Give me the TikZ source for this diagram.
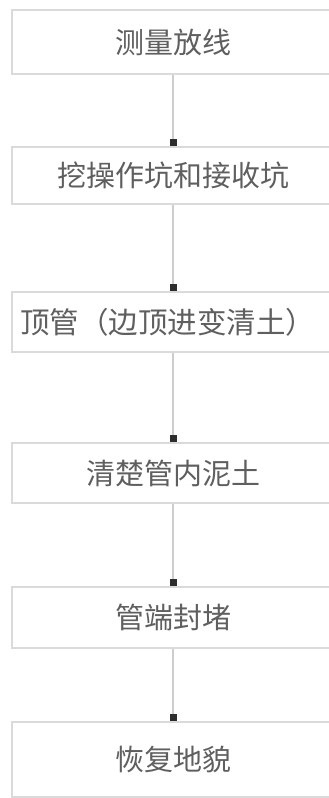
\documentclass[tikz,border=0pt]{standalone}
\usepackage{fontspec}
\newfontfamily\cjk{Noto Sans CJK SC}
\usetikzlibrary{arrows.meta}
\definecolor{boxline}{RGB}{218,218,218}
\definecolor{conline}{RGB}{205,205,205}
\definecolor{tipcol}{RGB}{45,45,45}
\definecolor{txt}{RGB}{95,95,95}
\begin{document}
\begin{tikzpicture}[x=1pt,y=-1pt,
  stepbox/.style={draw=boxline,line width=2pt,rectangle,minimum width=322pt,inner sep=0pt,
    font=\cjk\fontsize{29}{32}\selectfont,text=txt},
  conn/.style={draw=conline,line width=2pt,-{Square[length=7pt,width=7pt,color=tipcol,fill=tipcol]}}]
\useasboundingbox (0,0) rectangle (329,798);
\clip (0,0) rectangle (329,798);
\fill[white] (0,0) rectangle (329,798);
\node[stepbox,minimum height=64pt] (a) at (173,42) {测量放线};
\node[stepbox,minimum height=57pt] (b) at (173,175.5) {挖操作坑和接收坑};
\node[stepbox,minimum height=60pt] (c) at (173,322) {};
\node[font=\cjk\fontsize{29.5}{33}\selectfont,text=txt,inner sep=0pt] (ct) at (167.5,322) {顶管（边顶进变清土）};
\node[stepbox,minimum height=60pt] (d) at (173,473) {清楚管内泥土};
\node[stepbox,minimum height=61pt] (e) at (173,617.5) {管端封堵};
\node[stepbox,minimum height=75pt] (f) at (173,759.5) {恢复地貌};
\draw[conn] (a.south) -- (b.north);
\draw[conn] (b.south) -- (c.north);
\draw[conn] (c.south) -- (d.north);
\draw[conn] (d.south) -- (e.north);
\draw[conn] (e.south) -- (f.north);
\end{tikzpicture}
\end{document}
